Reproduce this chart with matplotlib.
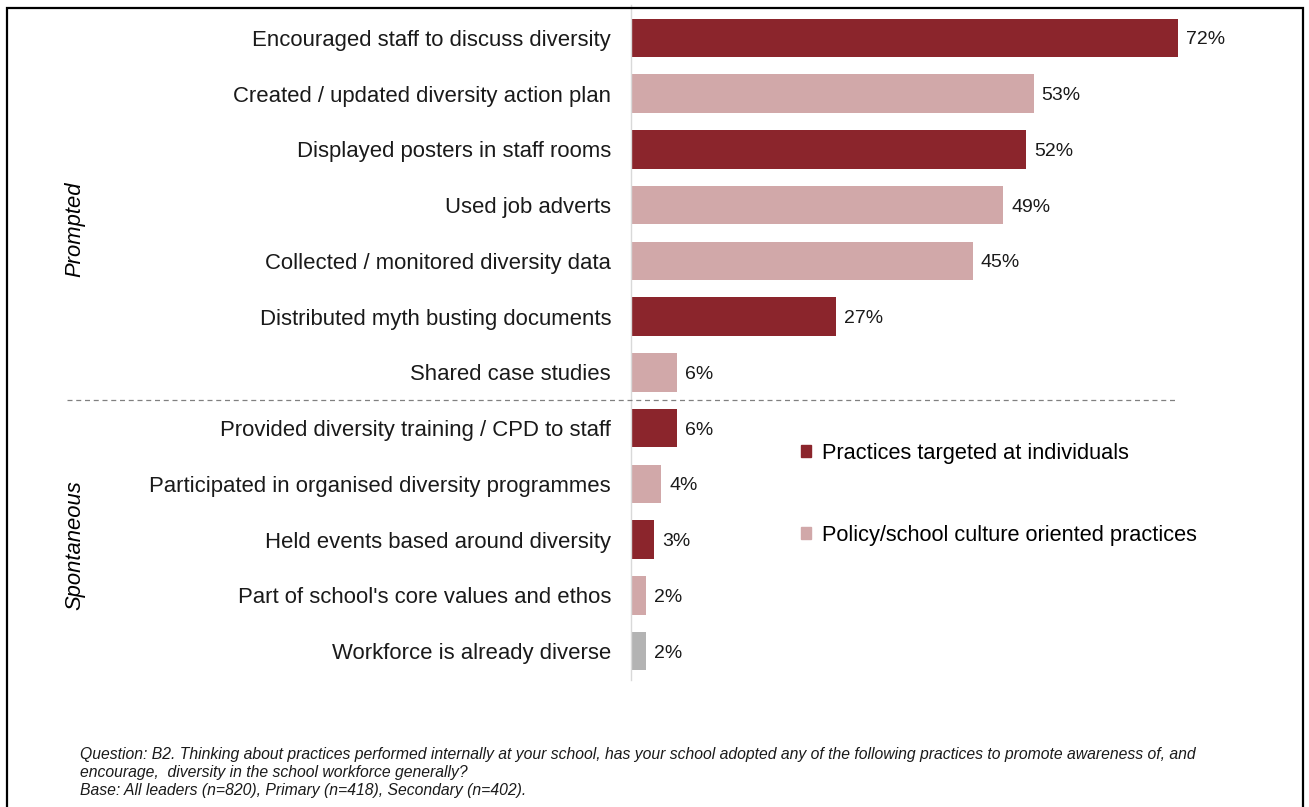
import matplotlib
matplotlib.use("Agg")
import matplotlib.pyplot as plt
import matplotlib.transforms as mtransforms
from matplotlib.patches import Patch, Rectangle
from matplotlib.lines import Line2D

plt.rcParams["font.family"] = ["Liberation Sans", "DejaVu Sans"]

# ---- Data ----
practices = [
    "Encouraged staff to discuss diversity",
    "Created / updated diversity action plan",
    "Displayed posters in staff rooms",
    "Used job adverts",
    "Collected / monitored diversity data",
    "Distributed myth busting documents",
    "Shared case studies",
    "Provided diversity training / CPD to staff",
    "Participated in organised diversity programmes",
    "Held events based around diversity",
    "Part of school's core values and ethos",
    "Workforce is already diverse",
]
share_pct = [72, 53, 52, 49, 45, 27, 6, 6, 4, 3, 2, 2]
practice_type = ["ind", "pol", "ind", "pol", "pol", "ind", "pol",
                 "ind", "pol", "ind", "pol", "other"]
n_prompted = 7

colors = {"ind": "#8B252C", "pol": "#D1A8A9", "other": "#B3B3B3"}
legend_labels = ["Practices targeted at individuals",
                 "Policy/school culture oriented practices"]

footnote = [
    "Question: B2. Thinking about practices performed internally at your school, has your school adopted any of the following practices to promote awareness of, and",
    "encourage,  diversity in the school workforce generally?",
    "Base: All leaders (n=820), Primary (n=418), Secondary (n=402).",
]

# ---- Figure ----
W, H = 1309, 807
fig = plt.figure(figsize=(W / 100, H / 100), dpi=100)
ax = fig.add_axes([631 / W, 1 - 680 / H, (1178 - 631) / W, 675 / H])

y = list(range(len(practices)))
ax.barh(y, share_pct, height=0.69, color=[colors[t] for t in practice_type])
ax.set_xlim(0, 72)
ax.set_ylim(len(practices) - 0.48, -0.59)

ax.set_yticks(y)
ax.set_yticklabels(practices, fontsize=15.9, color="#1a1a1a")
ax.tick_params(axis="y", length=0, pad=14.4)
ax.set_xticks([])
for s in ["top", "right", "bottom"]:
    ax.spines[s].set_visible(False)
ax.spines["left"].set_color("#D9D9D9")
ax.spines["left"].set_linewidth(1.0)

for yi, v in zip(y, share_pct):
    ax.text(v + 1.05, yi, f"{v}%", va="center_baseline", ha="left",
            fontsize=14, color="#1a1a1a")

# dashed split between prompted and spontaneous answers
split_tr = mtransforms.blended_transform_factory(fig.transFigure, ax.transData)
fig.add_artist(Line2D([67 / W, 1178 / W], [n_prompted - 0.5] * 2,
                      transform=split_tr, color="#808080", lw=0.9,
                      linestyle=(0, (4, 3))))

# group labels
fig.text(75 / W, 1 - 229 / H, "Prompted", rotation=90, style="italic",
         fontsize=15.8, ha="center", va="center")
fig.text(75 / W, 1 - 545 / H, "Spontaneous", rotation=90, style="italic",
         fontsize=15.8, ha="center", va="center")

# legend
handles = [Patch(color=colors["ind"]), Patch(color=colors["pol"])]
fig.legend(handles, legend_labels, loc="upper left",
           bbox_to_anchor=(801 / W, 1 - 443 / H), frameon=False,
           fontsize=15.7, handlelength=0.47, handleheight=0.47,
           handletextpad=0.5, labelspacing=2.78, borderaxespad=0,
           borderpad=0)

for i, line in enumerate(footnote):
    fig.text(80 / W, 1 - (754 + 18.5 * i) / H, line, style="italic",
             fontsize=11.3, ha="left", va="center", color="#1a1a1a")

# outer frame
fig.add_artist(Rectangle((7 / W, -0.01), (1303 - 7) / W, 1 - 8 / H + 0.01,
                         transform=fig.transFigure, fill=False,
                         edgecolor="black", lw=1.6))

fig.savefig("out.png", dpi=100, facecolor="white")
